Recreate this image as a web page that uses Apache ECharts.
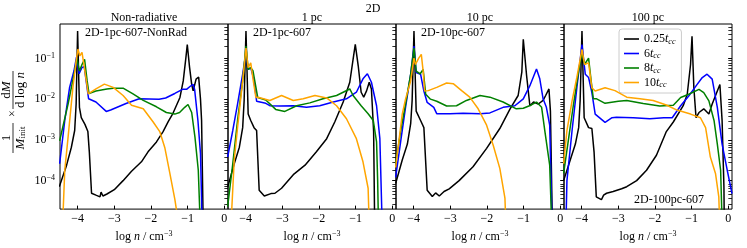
<!DOCTYPE html>
<html><head><meta charset="utf-8">
<script src="https://cdn.jsdelivr.net/npm/echarts@6/dist/echarts.min.js"></script>
<style>html,body{margin:0;padding:0;background:#fff}#c{width:747px;height:248px}</style>
</head><body><div id="c"></div>
<script>
// ---------------- data: [log n, (1/M_init) dM/dlog n] ----------------
const LOW = 1e-6; // value below the plotted range (curve leaves the bottom)
const nonrad_t025 = [[-4.5,7.1e-5],[-4.3,2.4e-4],[-4.17,6.6e-4],[-4.08,1.7e-3],[-4.04,7.6e-3],[-4.0,0.47],[-3.95,6.3e-3],[-3.9,3.5e-3],[-3.8,2.4e-3],[-3.72,1.6e-3],[-3.68,5e-4],[-3.62,4.9e-5],[-3.5,4.4e-5],[-3.39,4.0e-5],[-3.36,5.2e-5],[-3.31,4.2e-5],[-3.2,4.7e-5],[-3.0,6.0e-5],[-2.76,1.0e-4],[-2.53,1.7e-4],[-2.26,2.9e-4],[-2.08,5.1e-4],[-1.85,8.9e-4],[-1.67,1.6e-3],[-1.53,2.8e-3],[-1.40,4.5e-3],[-1.21,1.1e-2],[-1.12,2.8e-2],[-1.05,0.1],[-1.01,0.22],[-0.95,0.063],[-0.89,0.023],[-0.85,0.016],[-0.77,0.031],[-0.7,0.035],[-0.65,0.01],[-0.62,3.0e-3],[-0.56,LOW]];
const nonrad_t6 = [[-4.49,2.6e-4],[-4.35,3.0e-3],[-4.22,0.019],[-4.10,0.049],[-4.03,0.107],[-3.96,0.042],[-3.88,0.06],[-3.82,0.063],[-3.7,0.0102],[-3.5,8.5e-3],[-3.22,5.0e-3],[-3.1,5.4e-3],[-2.68,7.8e-3],[-2.32,0.0102],[-1.78,0.01],[-1.6,0.0107],[-1.35,0.0138],[-1.14,0.0174],[-1.03,0.0174],[-0.92,0.021],[-0.85,0.023],[-0.81,0.0174],[-0.72,3.0e-3],[-0.65,4.6e-4],[-0.58,LOW]];
const nonrad_t8 = [[-4.49,9.5e-4],[-4.26,7.6e-3],[-4.08,0.049],[-4.02,0.102],[-3.95,0.049],[-3.88,0.071],[-3.81,0.095],[-3.74,0.028],[-3.69,0.0138],[-3.5,0.0158],[-3.2,0.0178],[-3.03,0.0186],[-2.76,0.0186],[-2.49,0.0135],[-2.21,9.3e-3],[-1.85,6.5e-3],[-1.58,4.7e-3],[-1.35,4.3e-3],[-1.22,4.7e-3],[-1.08,6.3e-3],[-0.99,7.4e-3],[-0.89,4.7e-3],[-0.80,1.15e-3],[-0.71,1.8e-4],[-0.62,LOW]];
const nonrad_t10 = [[-4.45,LOW],[-4.35,1.8e-4],[-4.26,1.15e-3],[-4.13,0.019],[-4.04,0.085],[-3.99,0.17],[-3.94,0.115],[-3.88,0.141],[-3.82,0.063],[-3.71,0.0135],[-3.50,0.0178],[-3.27,0.0234],[-3.03,0.0195],[-2.76,0.0123],[-2.53,7.1e-3],[-2.21,5.8e-3],[-1.94,2.75e-3],[-1.76,1.6e-3],[-1.62,6.3e-4],[-1.49,1.6e-4],[-1.35,3.5e-5],[-1.3,1.8e-5],[-1.25,LOW]];

const pc1_t025 = [[-4.49,6.9e-5],[-4.31,2.6e-4],[-4.17,6.6e-4],[-4.08,2.0e-3],[-4.04,9.3e-3],[-3.99,0.47],[-3.93,4.3e-3],[-3.86,3.0e-3],[-3.77,2.0e-3],[-3.70,1.7e-3],[-3.63,5.8e-5],[-3.49,4.2e-5],[-3.31,4.8e-5],[-3.2,4.9e-5],[-3.02,6.5e-5],[-2.70,1.4e-4],[-2.38,2.4e-4],[-2.07,5.1e-4],[-1.79,1.07e-3],[-1.57,2.75e-3],[-1.34,8.5e-3],[-1.16,0.026],[-1.07,0.095],[-1.01,0.22],[-0.93,0.066],[-0.85,0.0148],[-0.78,0.0112],[-0.70,0.0162],[-0.63,0.026],[-0.57,0.0178],[-0.51,1.6e-3],[-0.47,LOW]];
const pc1_t6 = [[-4.49,3.8e-4],[-4.35,1.7e-3],[-4.22,7.6e-3],[-4.08,0.041],[-3.99,0.138],[-3.93,0.054],[-3.86,0.059],[-3.78,0.032],[-3.70,8.9e-3],[-3.45,7.9e-3],[-3.34,6.9e-3],[-3.07,6.8e-3],[-2.70,6.9e-3],[-2.34,6.3e-3],[-1.98,6.9e-3],[-1.61,8.5e-3],[-1.25,0.0102],[-0.98,0.0148],[-0.80,0.0316],[-0.68,0.042],[-0.57,0.026],[-0.43,6.9e-3],[-0.34,1.07e-3],[-0.25,LOW]];
const pc1_t8 = [[-4.49,2.3e-5],[-4.35,2.6e-4],[-4.22,3.0e-3],[-4.08,0.028],[-3.99,0.2],[-3.93,0.054],[-3.86,0.059],[-3.80,0.05],[-3.67,0.011],[-3.45,9.5e-3],[-3.18,5.6e-3],[-2.93,5.0e-3],[-2.61,6.9e-3],[-2.25,8.1e-3],[-1.89,0.0102],[-1.52,0.0123],[-1.16,0.0178],[-1.07,0.0123],[-0.85,6.9e-3],[-0.66,4.4e-3],[-0.52,3.0e-3],[-0.43,8.9e-4],[-0.40,1e-4],[-0.36,LOW]];
const pc1_t10 = [[-4.45,LOW],[-4.31,3.2e-4],[-4.22,2.0e-3],[-4.08,0.028],[-3.99,0.18],[-3.93,0.059],[-3.86,0.078],[-3.80,0.032],[-3.72,0.011],[-3.66,0.0112],[-3.34,9.3e-3],[-3.02,0.0123],[-2.70,9.3e-3],[-2.43,0.0102],[-2.11,0.0123],[-1.79,0.0107],[-1.52,6.9e-3],[-1.25,3.3e-3],[-0.98,1.07e-3],[-0.80,2.9e-4],[-0.66,6.5e-5],[-0.60,LOW]];

const pc10_t025 = [[-4.49,8.5e-5],[-4.31,3.2e-4],[-4.17,7.9e-4],[-4.08,2.5e-3],[-4.04,9.3e-3],[-3.99,0.47],[-3.93,5.1e-3],[-3.81,3.0e-3],[-3.72,2.0e-3],[-3.63,5.8e-5],[-3.49,4.1e-5],[-3.4,5e-5],[-3.3,4.2e-5],[-3.17,5.4e-5],[-3.03,6.3e-5],[-2.76,1.0e-4],[-2.38,2.2e-4],[-2.01,6.2e-4],[-1.65,1.9e-3],[-1.37,5.8e-3],[-1.15,0.0123],[-1.05,0.046],[-1.01,0.295],[-0.92,0.038],[-0.83,6.9e-3],[-0.73,8.5e-3],[-0.6,7.6e-3],[-0.47,9.3e-3],[-0.40,0.0123],[-0.31,0.0178],[-0.27,5e-3],[-0.20,LOW]];
const pc10_t6 = [[-4.49,1.2e-4],[-4.35,9.5e-4],[-4.22,6.3e-3],[-4.08,0.041],[-3.99,0.2],[-3.93,0.045],[-3.81,0.041],[-3.72,0.0158],[-3.63,8.3e-3],[-3.45,6.3e-3],[-3.37,4.4e-3],[-3.01,4.4e-3],[-2.65,4.5e-3],[-2.19,4.4e-3],[-1.92,4.6e-3],[-1.56,6.3e-3],[-1.24,6.9e-3],[-1.01,0.0102],[-0.83,0.0214],[-0.65,0.055],[-0.56,0.0316],[-0.47,0.0102],[-0.38,6.3e-3],[-0.29,2.3e-3],[-0.20,LOW]];
const pc10_t8 = [[-4.49,2.6e-4],[-4.35,1.7e-3],[-4.22,7.6e-3],[-4.08,0.041],[-3.99,0.18],[-3.93,0.049],[-3.82,0.042],[-3.74,0.054],[-3.67,0.0132],[-3.54,0.01],[-3.37,8.9e-3],[-3.10,6.8e-3],[-2.83,6.9e-3],[-2.56,9.3e-3],[-2.19,0.0123],[-1.92,0.0112],[-1.56,8.5e-3],[-1.20,5.8e-3],[-1.01,6.0e-3],[-0.79,7.2e-3],[-0.65,8.5e-3],[-0.51,6.3e-3],[-0.42,1.6e-3],[-0.29,2.4e-4],[-0.20,LOW]];
const pc10_t10 = [[-4.49,2.1e-4],[-4.40,9.5e-4],[-4.31,4.3e-3],[-4.22,0.01],[-4.08,0.028],[-3.99,0.102],[-3.95,0.071],[-3.86,0.102],[-3.79,0.126],[-3.74,0.049],[-3.70,0.0158],[-3.60,0.0162],[-3.37,0.0195],[-3.10,0.025],[-2.92,0.024],[-2.69,0.0162],[-2.47,0.0112],[-2.24,5.8e-3],[-2.01,2.3e-3],[-1.83,7.4e-4],[-1.65,2.0e-4],[-1.51,3.7e-5],[-1.45,LOW]];

const pc100_t025 = [[-4.49,1.0e-4],[-4.31,3.2e-4],[-4.17,7.9e-4],[-4.08,2.0e-3],[-4.04,9.3e-3],[-3.99,0.47],[-3.93,3.5e-3],[-3.81,2.0e-3],[-3.72,1.9e-3],[-3.66,5e-4],[-3.60,4.0e-5],[-3.46,3.4e-5],[-3.40,4.4e-5],[-3.32,4.9e-5],[-3.14,5.4e-5],[-2.91,6.3e-5],[-2.77,7.1e-5],[-2.50,1.0e-4],[-2.23,1.8e-4],[-1.96,4.2e-4],[-1.69,1.6e-3],[-1.50,2.75e-3],[-1.23,6.9e-3],[-1.12,0.0132],[-1.03,0.071],[-0.99,0.35],[-0.94,0.019],[-0.88,3.5e-3],[-0.80,4.7e-3],[-0.67,5.8e-3],[-0.53,4.3e-3],[-0.44,7.6e-3],[-0.23,0.023],[-0.17,3.0e-3],[-0.12,7.1e-5],[-0.10,LOW]];
const pc100_t6 = [[-4.45,LOW],[-4.40,1.0e-4],[-4.26,1.7e-3],[-4.13,0.019],[-3.99,0.22],[-3.90,0.041],[-3.81,0.034],[-3.72,0.0145],[-3.63,4.3e-3],[-3.36,2.7e-3],[-3.17,3.5e-3],[-3.05,3.6e-3],[-2.59,3.5e-3],[-2.14,3.3e-3],[-1.76,3.5e-3],[-1.53,3.5e-3],[-1.30,6.9e-3],[-1.08,0.012],[-0.85,0.023],[-0.71,0.034],[-0.58,0.041],[-0.44,0.031],[-0.30,6.3e-3],[-0.17,7.9e-4],[-0.03,1.8e-4],[0.1,4.8e-5]];
const pc100_t8 = [[-4.49,1.5e-4],[-4.35,1.15e-3],[-4.22,7.6e-3],[-4.08,0.049],[-3.99,0.138],[-3.92,0.071],[-3.81,0.102],[-3.74,0.028],[-3.68,0.0102],[-3.59,0.0102],[-3.36,7.9e-3],[-3.0,8.9e-3],[-2.77,9.3e-3],[-2.32,7.8e-3],[-1.87,6.8e-3],[-1.50,7.1e-3],[-1.30,0.011],[-1.08,0.0132],[-0.80,0.0174],[-0.67,0.0145],[-0.53,9.1e-3],[-0.39,3.0e-3],[-0.30,7.9e-4],[-0.21,1.8e-4],[-0.14,LOW]];
const pc100_t10 = [[-4.49,2.6e-4],[-4.40,1.7e-3],[-4.26,9.1e-3],[-4.13,0.034],[-3.99,0.166],[-3.92,0.071],[-3.81,0.078],[-3.72,0.019],[-3.63,0.0158],[-3.36,0.019],[-3.09,0.0162],[-2.77,0.0112],[-2.41,0.0102],[-2.05,9.3e-3],[-1.69,7.2e-3],[-1.40,5.4e-3],[-1.03,4.3e-3],[-0.76,3.5e-3],[-0.62,2.0e-3],[-0.49,3.8e-4],[-0.35,1.5e-4],[-0.26,4.0e-5],[-0.20,LOW]];

const seriesNames = ['0.25tcc', '6tcc', '8tcc', '10tcc'];
const legendParts = [['0.25', 't', 'cc'], ['6', 't', 'cc'], ['8', 't', 'cc'], ['10', 't', 'cc']];
const panelTitles = ['Non-radiative', '1 pc', '10 pc', '100 pc'];
const runLabels = ['2D-1pc-607-NonRad', '2D-1pc-607', '2D-10pc-607', '2D-100pc-607'];
const figTitle = '2D';
const xTicks = [-4, -3, -2, -1, 0];
const yTicks = [1e-4, 1e-3, 1e-2, 1e-1];
const panelData = [
  [nonrad_t025, nonrad_t6, nonrad_t8, nonrad_t10],
  [pc1_t025, pc1_t6, pc1_t8, pc1_t10],
  [pc10_t025, pc10_t6, pc10_t8, pc10_t10],
  [pc100_t025, pc100_t6, pc100_t8, pc100_t10]
];

// ---------------- styling / layout ----------------
const colors = ['#000000', '#0000ff', '#008000', '#ffa500'];
const FONT = 'Liberation Serif';
const X0 = 60, PW = 168, TOP = 24, PH = 187;
const XMIN = -4.48, XMAX = 0.1, YMIN = 2e-5, YMAX = 0.7;

const yMinor = [];
for (let k = -5; k <= -1; k++) for (let m = 2; m <= 9; m++) {
  const v = m * Math.pow(10, k);
  if (v > YMIN * 1.001 && v < YMAX) yMinor.push(v);
}
function minusStr(v) { return v < 0 ? '\u2212' + Math.abs(v) : String(v); }

const grids = [], xAxes = [], yAxes = [], series = [];
for (let i = 0; i < 4; i++) {
  const left = X0 + i * PW;
  grids.push({left: left, top: TOP, width: PW, height: PH, show: true, borderColor: '#000', borderWidth: 1, backgroundColor: 'transparent'});
  grids.push({left: left, top: TOP, width: PW, height: PH, show: false});
  xAxes.push({
    gridIndex: 2 * i, type: 'value', min: XMIN, max: XMAX,
    axisLine: {show: false}, splitLine: {show: false},
    axisTick: {show: true, inside: true, length: 3.5, customValues: xTicks, lineStyle: {color: '#000', width: 1}},
    axisLabel: {customValues: xTicks, formatter: v => minusStr(Math.round(v)), fontFamily: FONT, fontSize: 12, color: '#000', margin: 4},
    name: '{r|log }{i|n}{r| / cm}{s|\u22123}', nameLocation: 'middle', nameGap: 16,
    nameTextStyle: {rich: {
      r: {fontFamily: FONT, fontSize: 12, color: '#000', lineHeight: 14},
      i: {fontFamily: FONT, fontStyle: 'italic', fontSize: 12, color: '#000', lineHeight: 14},
      s: {fontFamily: FONT, fontSize: 8, color: '#000', lineHeight: 8, verticalAlign: 'top'}
    }}
  });
  xAxes.push({gridIndex: 2 * i + 1, type: 'value', min: XMIN, max: XMAX, show: false});
  const yBase = {type: 'log', logBase: 10, min: YMIN, max: YMAX, axisLine: {show: false}, splitLine: {show: false}};
  yAxes.push(Object.assign({}, yBase, {
    gridIndex: 2 * i, position: 'left',
    axisTick: {show: true, inside: true, length: 3.5, customValues: yTicks, lineStyle: {color: '#000'}},
    axisLabel: {show: i === 0, customValues: yTicks, margin: 5,
      formatter: v => '{b|10}{s|\u2212' + (-Math.round(Math.log10(v))) + '}',
      rich: {b: {fontFamily: FONT, fontSize: 12, color: '#000', lineHeight: 14},
             s: {fontFamily: FONT, fontSize: 8, color: '#000', lineHeight: 8, verticalAlign: 'top'}}}
  }));
  yAxes.push(Object.assign({}, yBase, {
    gridIndex: 2 * i, position: 'right',
    axisTick: {show: true, inside: true, length: 3.5, customValues: yTicks, lineStyle: {color: '#000'}},
    axisLabel: {show: false}
  }));
  yAxes.push(Object.assign({}, yBase, {
    gridIndex: 2 * i + 1, position: 'left',
    axisTick: {show: true, inside: true, length: 2, customValues: yMinor, lineStyle: {color: '#000', width: 0.8}},
    axisLabel: {show: false}
  }));
  yAxes.push(Object.assign({}, yBase, {
    gridIndex: 2 * i + 1, position: 'right',
    axisTick: {show: true, inside: true, length: 2, customValues: yMinor, lineStyle: {color: '#000', width: 0.8}},
    axisLabel: {show: false}
  }));
  for (let j = 0; j < 4; j++) {
    series.push({
      type: 'line', name: seriesNames[j], xAxisIndex: 2 * i, yAxisIndex: 4 * i,
      data: panelData[i][j], symbol: 'none', showSymbol: false, clip: true,
      lineStyle: {color: colors[j], width: 1.5}, itemStyle: {color: colors[j]},
      z: 2 + j, silent: true
    });
  }
}

const graphic = [];
graphic.push({type: 'text', x: 373, y: 9, style: {text: figTitle, fontFamily: FONT, fontSize: 12, fill: '#000', textAlign: 'center', textVerticalAlign: 'middle'}});
for (let i = 0; i < 4; i++) {
  graphic.push({type: 'text', x: X0 + i * PW + PW / 2, y: 18, style: {text: panelTitles[i], fontFamily: FONT, fontSize: 12, fill: '#000', textAlign: 'center', textVerticalAlign: 'middle'}});
}
graphic.push({type: 'text', x: 85, y: 33, style: {text: runLabels[0], fontFamily: FONT, fontSize: 12, fill: '#000', textAlign: 'left', textVerticalAlign: 'middle'}});
graphic.push({type: 'text', x: 253, y: 33, style: {text: runLabels[1], fontFamily: FONT, fontSize: 12, fill: '#000', textAlign: 'left', textVerticalAlign: 'middle'}});
graphic.push({type: 'text', x: 421, y: 33, style: {text: runLabels[2], fontFamily: FONT, fontSize: 12, fill: '#000', textAlign: 'left', textVerticalAlign: 'middle'}});
graphic.push({type: 'text', x: 669, y: 200, style: {text: runLabels[3], fontFamily: FONT, fontSize: 12, fill: '#000', textAlign: 'center', textVerticalAlign: 'middle'}});

// y-axis label: 1/M_init x dM/(d log n), rotated
const richY = {
  r: {fontFamily: FONT, fontSize: 13, fill: '#000'},
  i: {fontFamily: FONT, fontSize: 13, fontStyle: 'italic', fill: '#000'},
  s: {fontFamily: FONT, fontSize: 9, fill: '#000', verticalAlign: 'bottom', lineHeight: 11}
};
graphic.push({
  type: 'group', x: 13, y: 153, rotation: Math.PI / 2,
  children: [
    {type: 'text', x: 15, y: -6, style: {text: '1', fontFamily: FONT, fontSize: 13, fill: '#000', textAlign: 'center', textVerticalAlign: 'middle'}},
    {type: 'line', shape: {x1: 0, y1: 0, x2: 30, y2: 0}, style: {stroke: '#000', lineWidth: 0.8}},
    {type: 'text', x: 15, y: 7.5, style: {text: '{i|M}{s|init}', rich: richY, textAlign: 'center', textVerticalAlign: 'middle'}},
    {type: 'text', x: 39.5, y: 0, style: {text: '\u00d7', fontFamily: FONT, fontSize: 12, fill: '#000', textAlign: 'center', textVerticalAlign: 'middle'}},
    {type: 'text', x: 63, y: -6, style: {text: '{r|d}{i|M}', rich: richY, textAlign: 'center', textVerticalAlign: 'middle'}},
    {type: 'line', shape: {x1: 44, y1: 0, x2: 82, y2: 0}, style: {stroke: '#000', lineWidth: 0.8}},
    {type: 'text', x: 63, y: 7.5, style: {text: '{r|d log }{i|n}', rich: richY, textAlign: 'center', textVerticalAlign: 'middle'}}
  ]
});

const option = {
  animation: false,
  backgroundColor: '#fff',
  grid: grids, xAxis: xAxes, yAxis: yAxes, series: series, graphic: graphic,
  legend: {
    data: seriesNames, orient: 'vertical', left: 619, top: 29,
    icon: 'rect', itemWidth: 15, itemHeight: 1.6, itemGap: 2,
    padding: [4, 6, 4, 5], backgroundColor: '#fff', borderColor: '#cccccc', borderWidth: 1, borderRadius: 3,
    selectedMode: false,
    formatter: name => {
      const p = legendParts[seriesNames.indexOf(name)];
      return '{r|' + p[0] + '}{i|' + p[1] + '}{s|' + p[2] + '}';
    },
    textStyle: {rich: {
      r: {fontFamily: FONT, fontSize: 12, color: '#000', lineHeight: 13},
      i: {fontFamily: FONT, fontSize: 12, fontStyle: 'italic', color: '#000', lineHeight: 13},
      s: {fontFamily: FONT, fontSize: 8, fontStyle: 'italic', color: '#000', lineHeight: 9, verticalAlign: 'bottom'}
    }}
  }
};
const chart = echarts.init(document.getElementById('c'), null, {renderer: 'canvas'});
chart.setOption(option);
</script></body></html>
